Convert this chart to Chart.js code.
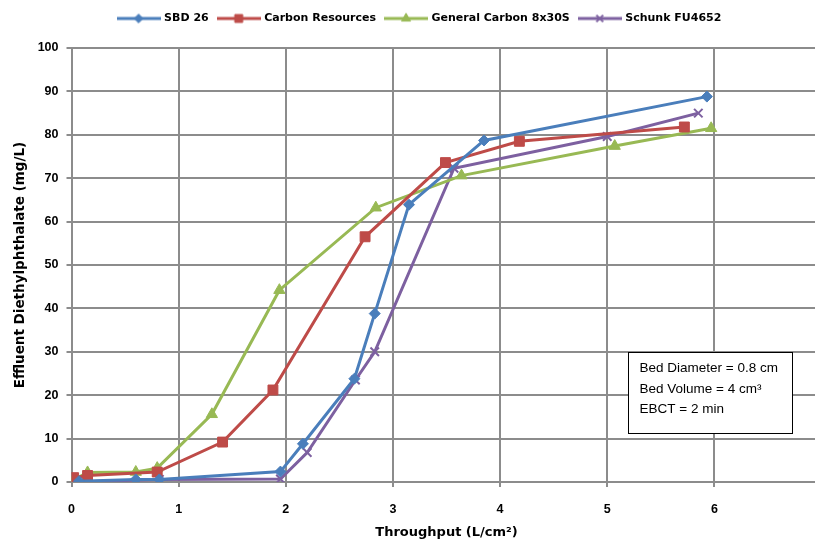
<!DOCTYPE html>
<html>
<head>
<meta charset="utf-8">
<script src="https://cdn.jsdelivr.net/npm/chart.js@4/dist/chart.umd.min.js"></script>
<style>
  html, body { margin: 0; padding: 0; background: #fff; overflow: hidden; }
  #wrap { position: relative; width: 840px; height: 544px; }
</style>
</head>
<body>
<div id="wrap"><canvas id="c" width="840" height="544"></canvas></div>
<script>
// Breakthrough curves: throughput (L/cm²) vs effluent diethylphthalate (mg/L)
const seriesNames = ['SBD 26', 'Carbon Resources', 'General Carbon 8x30S', 'Schunk FU4652'];

const sbdX = [0.07, 0.6, 0.82, 1.95, 2.16, 2.64, 2.83, 3.15, 3.85, 5.93];
const sbdY = [0.2, 0.6, 0.6, 2.4, 8.8, 23.8, 38.8, 63.9, 78.7, 88.8];

const carbonResX = [0.02, 0.15, 0.8, 1.41, 1.88, 2.74, 3.49, 4.18, 5.72];
const carbonResY = [1.0, 1.5, 2.3, 9.2, 21.2, 56.5, 73.6, 78.5, 81.8];

const generalX = [0.02, 0.15, 0.6, 0.8, 1.31, 1.94, 2.84, 3.64, 5.07, 5.97];
const generalY = [0.5, 2.2, 2.3, 3.2, 15.6, 44.2, 63.2, 70.6, 77.4, 81.5];

const schunkX = [0.05, 0.82, 1.95, 2.2, 2.65, 2.83, 3.57, 5.0, 5.85];
const schunkY = [0.0, 0.6, 0.7, 6.8, 23.5, 30.0, 72.3, 79.6, 85.0];

const xTicks = [0, 1, 2, 3, 4, 5, 6, 7];
const yTicks = [0, 10, 20, 30, 40, 50, 60, 70, 80, 90, 100];

const noteLines = ['Bed Diameter = 0.8 cm', 'Bed Volume = 4 cm\u00B3', 'EBCT = 2 min'];

const colors = ['#4A7EBB', '#BE4B48', '#98B954', '#7D60A0'];
const styles = ['rectRot', 'rect', 'triangle', 'crossRot'];
const radii = [5.5, 7, 6.5, 6];

const TICK_FONT = { family: '"Liberation Sans", Arial, sans-serif', size: 12.5, weight: 'bold' };
const TITLE_FONT = { family: '"DejaVu Sans", sans-serif', size: 13, weight: 'bold' };

function pts(xs, ys) { return xs.map((x, i) => ({ x: x, y: ys[i] })); }

const datasets = [
  pts(sbdX, sbdY), pts(carbonResX, carbonResY), pts(generalX, generalY), pts(schunkX, schunkY)
].map((data, i) => ({
  label: seriesNames[i],
  data: data,
  borderColor: colors[i],
  backgroundColor: colors[i],
  borderWidth: 3,
  pointStyle: styles[i],
  pointRadius: radii[i],
  pointBorderWidth: styles[i] === 'crossRot' ? 2 : 1,
  pointBackgroundColor: colors[i],
  pointBorderColor: colors[i],
  tension: 0,
  fill: false
}));

// legend swatch: short line with the series marker in the middle
function legendIcon(i) {
  const c = document.createElement('canvas');
  c.width = 44; c.height = 14;
  const g = c.getContext('2d');
  g.strokeStyle = colors[i]; g.fillStyle = colors[i];
  g.lineWidth = 3;
  g.beginPath(); g.moveTo(0, 7); g.lineTo(44, 7); g.stroke();
  g.lineWidth = styles[i] === 'crossRot' ? 2 : 1;
  Chart.helpers.drawPoint(g, { pointStyle: styles[i], radius: radii[i] * 0.8, borderWidth: g.lineWidth, rotation: 0 }, 22, 7);
  return c;
}

const noteBox = {
  id: 'noteBox',
  afterDraw(chart) {
    const g = chart.ctx;
    g.save();
    g.fillStyle = '#fff';
    g.strokeStyle = '#000';
    g.lineWidth = 1;
    const left = 628.5, top = 352.5, w = 164, h = 81;
    g.fillRect(left, top, w, h);
    g.strokeRect(left, top, w, h);
    g.fillStyle = '#000';
    g.font = '13.5px "Liberation Sans", Arial, sans-serif';
    g.textBaseline = 'middle';
    noteLines.forEach((t, k) => g.fillText(t, left + 11, top + 16 + k * 20.5));
    g.restore();
  }
};

const chart = new Chart(document.getElementById('c'), {
  type: 'line',
  data: { datasets: datasets },
  plugins: [noteBox],
  options: {
    responsive: false,
    animation: false,
    layout: { padding: { left: 17, right: 17, top: 3, bottom: 0 } },
    plugins: {
      tooltip: { enabled: false },
      legend: {
        position: 'top',
        labels: {
          usePointStyle: true,
          pointStyleWidth: 40,
          padding: 10,
          color: '#000',
          font: { family: '"DejaVu Sans", sans-serif', size: 11, weight: 'bold' },
          generateLabels(chart) {
            return chart.data.datasets.map((ds, i) => ({
              text: ds.label,
              pointStyle: legendIcon(i),
              fillStyle: colors[i],
              strokeStyle: colors[i],
              lineWidth: 0,
              fontColor: '#000',
              hidden: false,
              datasetIndex: i
            }));
          }
        }
      }
    },
    scales: {
      x: {
        type: 'linear',
        min: 0, max: 7,
        afterFit(s) { s.height = 62; },
        afterBuildTicks(s) { s.ticks = xTicks.map(v => ({ value: v })); },
        grid: { color: '#8C8C8C', lineWidth: 2, drawTicks: true, tickLength: 5, tickColor: '#8C8C8C' },
        border: { color: '#8C8C8C', width: 2 },
        ticks: { color: '#000', padding: 15, font: TICK_FONT },
        title: {
          display: true,
          text: 'Throughput (L/cm\u00B2)',
          color: '#000',
          padding: { top: 4, bottom: 4 },
          font: TITLE_FONT
        }
      },
      y: {
        min: 0, max: 100,
        afterFit(s) { s.width = 54.5; },
        afterBuildTicks(s) { s.ticks = yTicks.map(v => ({ value: v })); },
        grid: { color: '#8C8C8C', lineWidth: 2, drawTicks: true, tickLength: 5, tickColor: '#8C8C8C' },
        border: { color: '#8C8C8C', width: 2 },
        ticks: { color: '#000', padding: 8, font: TICK_FONT },
        title: {
          display: true,
          text: 'Effluent Diethylphthalate (mg/L)',
          color: '#000',
          padding: { top: -5, bottom: 0 },
          font: { family: '"DejaVu Sans", sans-serif', size: 13.5, weight: 'bold' }
        }
      }
    }
  }
});

// leave extra room under the legend so the plot starts at the 100 line position
const plotTop = 48;
const extra = plotTop - chart.chartArea.top;
if (extra > 0) {
  const baseFit = chart.legend.fit;
  chart.legend.fit = function () {
    baseFit.apply(this, arguments);
    this.height += extra;
  };
  chart.update();
}
</script>
</body>
</html>
